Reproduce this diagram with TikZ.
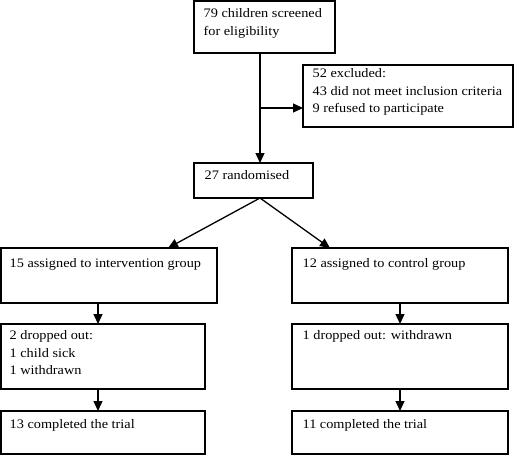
\documentclass[tikz,border=0pt]{standalone}
\usepackage{fontspec}
\setmainfont{Liberation Serif}[FakeStretch=1.1]
\usepackage{tikz}
\usetikzlibrary{positioning}
\usetikzlibrary{arrows.meta}

\begin{document}
\begin{tikzpicture}
[
x=1pt, y=-1pt,
box-a/.style={rectangle,draw,anchor=north west,inner sep=0,outer sep=0},
text-a/.style={black,anchor=base west,inner sep=0,align=left,font=\fontsize{13}{17.7}\selectfont},
arrow-a/.style={-{Triangle[length=10pt,width=9pt]}},
line width=1.3pt,
]
\useasboundingbox (0,0) rectangle (519,455);
% boxes
\node (b1) [box-a, minimum width=141pt, minimum height=52pt] at (194,1)   {};
\node (b2) [box-a, minimum width=210pt, minimum height=62pt] at (303,65)  {};
\node (b3) [box-a, minimum width=119pt, minimum height=35pt] at (194,163) {};
\node (b4) [box-a, minimum width=216pt, minimum height=55pt] at (1,248)   {};
\node (b5) [box-a, minimum width=216pt, minimum height=55pt] at (292,248) {};
\node (b6) [box-a, minimum width=204pt, minimum height=65pt] at (1,324)   {};
\node (b7) [box-a, minimum width=216pt, minimum height=65pt] at (292,324) {};
\node (b8) [box-a, minimum width=204pt, minimum height=43pt] at (1,411)   {};
\node (b9) [box-a, minimum width=216pt, minimum height=43pt] at (292,411) {};
% texts (base = last line)
\node (l1) [text-a, xshift=9pt,  yshift=-34.2pt] at (b1.north west) {79 children screened\\for eligibility};
\node (l2) [text-a, xshift=9pt,  yshift=-47.9pt] at (b2.north west) {52 excluded:\\43 did not meet inclusion criteria\\9 refused to participate};
\node (l3) [text-a, xshift=10pt, yshift=-16.5pt] at (b3.north west) {27 randomised};
\node (l4) [text-a, xshift=8pt,  yshift=-19pt]   at (b4.north west) {15 assigned to intervention group};
\node (l5) [text-a, xshift=10pt, yshift=-19pt]   at (b5.north west) {12 assigned to control group};
\node (l6) [text-a, xshift=8pt,  yshift=-50.9pt] at (b6.north west) {2 dropped out:\\1 child sick\\1 withdrawn};
\node (l7) [text-a, xshift=10pt, yshift=-15.5pt] at (b7.north west) {1 dropped out: withdrawn};
\node (l8) [text-a, xshift=8pt,  yshift=-17pt]   at (b8.north west) {13 completed the trial};
\node (l9) [text-a, xshift=10pt, yshift=-17pt]   at (b9.north west) {11 completed the trial};
% connectors
\coordinate (j1) at (260,108);
\coordinate (e4) at (168,248);
\coordinate (e5) at (330,248);
\coordinate (cl) at (98,0);
\coordinate (cr) at (400,0);
\draw [arrow-a] (b1.south -| j1) -- (b3.north -| j1);
\draw [arrow-a] (j1) -- (j1 -| b2.west);
\draw [arrow-a] (b3.south -| j1) -- (e4);
\draw [arrow-a] (b3.south -| j1) -- (e5);
\draw [arrow-a] (b4.south -| cl) -- (b6.north -| cl);
\draw [arrow-a] (b6.south -| cl) -- (b8.north -| cl);
\draw [arrow-a] (b5.south -| cr) -- (b7.north -| cr);
\draw [arrow-a] (b7.south -| cr) -- (b9.north -| cr);
\end{tikzpicture}
\end{document}
